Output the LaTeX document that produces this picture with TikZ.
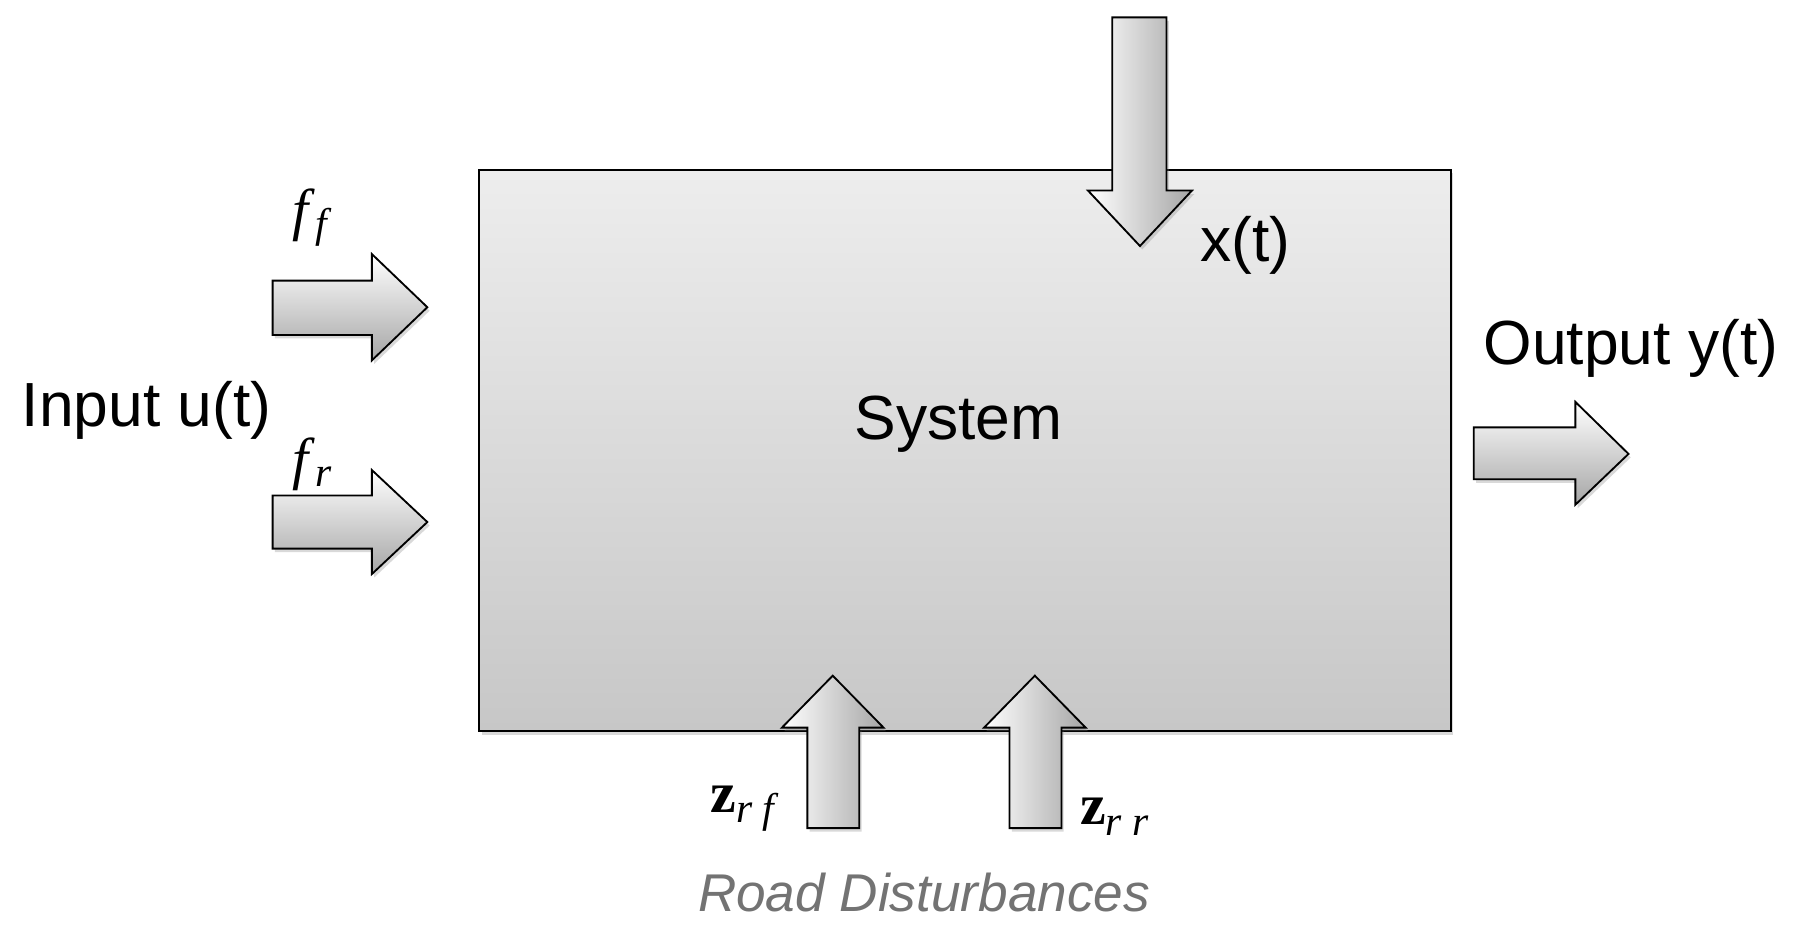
\documentclass[tikz,border=0pt]{standalone}
\usepackage{fix-cm}
\usepackage{fontspec}
\setmainfont{Liberation Sans}
\newfontfamily\serifit{Liberation Serif}
\usetikzlibrary{shadows}
\begin{document}
\begin{tikzpicture}[x=1pt,y=-1pt,
  arr/.style={draw=black,line width=1.6pt,line join=miter,top color=white,bottom color=black!35,drop shadow={shadow xshift=2pt,shadow yshift=-3pt,opacity=0.3}},
  varr/.style={draw=black,line width=1.6pt,line join=miter,left color=white,right color=black!35,drop shadow={shadow xshift=2pt,shadow yshift=-3pt,opacity=0.3}},
  lbl/.style={font=\fontsize{54}{58}\selectfont},
  mth/.style={font=\fontsize{50}{54}\selectfont\serifit}]
\useasboundingbox (0,0) rectangle (1568,817);
\node[draw=black,line width=2pt,minimum width=841pt,minimum height=486pt,top color=black!7,bottom color=black!22,inner sep=0pt,
  drop shadow={shadow xshift=2pt,shadow yshift=-3pt,opacity=0.3}] (sys) at (835.5,390) {};
\node[lbl] (systxt) at (830,367) {System};
% top arrow
\path[varr] (963,15) -- (1010,15) -- (1010,165) -- (1032,165) -- (987,213) -- (942,165) -- (963,165) -- cycle;
\node[lbl,anchor=west] (xl) at (1036,212) {x(t)};
% left arrows
\path[arr] (236,243) -- (322,243) -- (322,220) -- (370,266) -- (322,312) -- (322,290) -- (236,290) -- cycle;
\path[arr] (236,429) -- (322,429) -- (322,407) -- (370,452) -- (322,497) -- (322,475) -- (236,475) -- cycle;
\node[mth] (ff) at (270,188) {\textit{f}\raisebox{-0.3ex}{\fontsize{36}{40}\selectfont\textit{f}}};
\node[mth] (fr) at (270,402) {\textit{f}\raisebox{-0.3ex}{\fontsize{36}{40}\selectfont\textit{r}}};
\node[lbl] (in) at (127,355) {Input u(t)};
% output
\path[arr] (1276,370) -- (1364,370) -- (1364,348) -- (1410,393) -- (1364,437) -- (1364,415) -- (1276,415) -- cycle;
\node[lbl] (out) at (1412,302) {Output y(t)};
% bottom arrows
\path[varr] (699,717) -- (699,630) -- (677,630) -- (721,585) -- (765,630) -- (744,630) -- (744,717) -- cycle;
\path[varr] (874,717) -- (874,630) -- (852,630) -- (896,585) -- (940,630) -- (919,630) -- (919,717) -- cycle;
\node[mth] (zrf) at (645,700) {\textbf{z}\raisebox{-0.4ex}{\fontsize{36}{40}\selectfont\textit{r f}}};
\node[mth] (zrr) at (965,707) {\textbf{z}\raisebox{-0.4ex}{\fontsize{36}{40}\selectfont\textit{r r}}};
\node[text=black!55,font=\fontsize{46}{50}\selectfont\itshape] (rd) at (800,773) {Road Disturbances};
\end{tikzpicture}
\end{document}
